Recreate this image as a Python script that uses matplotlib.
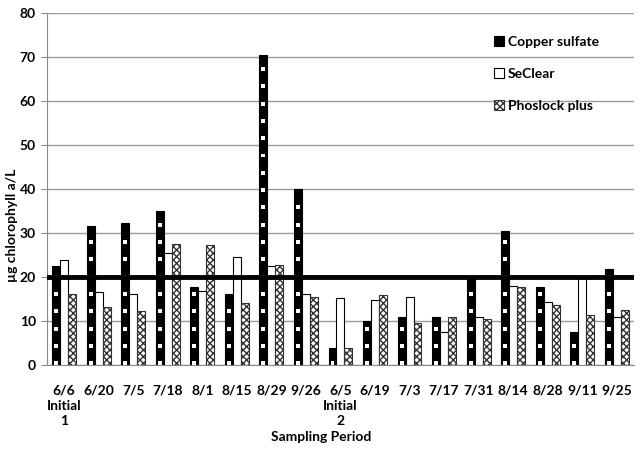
import matplotlib
matplotlib.use("Agg")
import matplotlib.pyplot as plt
import numpy as np

plt.rcParams['font.family'] = ['Lato', 'DejaVu Sans']
plt.rcParams['hatch.linewidth'] = 1.0

# data
dates = ["6/6\nInitial\n1", "6/20", "7/5", "7/18", "8/1", "8/15", "8/29", "9/26",
         "6/5\nInitial\n2", "6/19", "7/3", "7/17", "7/31", "8/14", "8/28", "9/11", "9/25"]
copper = [22.5, 31.5, 32.3, 35.0, 17.7, 16.2, 70.3, 40.0,
          3.8, 9.9, 11.0, 11.0, 19.8, 30.5, 17.8, 7.4, 21.8]
seclear = [23.9, 16.6, 16.2, 25.5, 16.8, 24.6, 22.5, 16.0,
           15.3, 14.8, 15.4, 7.5, 11.0, 18.0, 14.2, 20.0, 11.0]
phoslock = [16.2, 13.2, 12.3, 27.5, 27.3, 14.0, 22.8, 15.4,
            3.8, 15.9, 9.5, 11.0, 10.5, 17.8, 13.5, 11.3, 12.4]
threshold = 20

fig = plt.figure(figsize=(6.43, 4.5), dpi=100)
ax = fig.add_axes([0.073, 0.189, 0.913, 0.783])

x = np.arange(len(dates))
w = 0.23

# copper sulfate: black with a column of white squares
ax.bar(x - w, copper, w, color='black', edgecolor='black', lw=0.8, zorder=3,
       label='Copper sulfate')
for xi, v in zip(x, copper):
    ys = np.arange(0.4, v - 1.0, 3.93)
    ax.scatter(np.full(len(ys), xi - w), ys, marker='s', s=8, c='white',
               edgecolors='none', zorder=4)
# seclear: white
ax.bar(x, seclear, w, color='white', edgecolor='black', lw=0.8, zorder=3, label='SeClear')
# phoslock plus: checkered
ax.bar(x + w, phoslock, w, color='white', edgecolor='#333333', hatch='xxxxx', lw=0.8,
       zorder=3, label='Phoslock plus')

ax.axhline(threshold, color='black', lw=3.5, zorder=5)

ax.set_xlim(-0.5, len(dates) - 0.5)
ax.set_ylim(0, 80)
ax.set_yticks(range(0, 81, 10))
ax.yaxis.grid(True, color='#999999', lw=1.0)
ax.set_axisbelow(True)
for s in ['top', 'right']:
    ax.spines[s].set_visible(False)
ax.spines['left'].set_color('#888888')
ax.spines['bottom'].set_color('#888888')
ax.tick_params(axis='y', length=4, color='#888888', labelsize=10, pad=4)
ax.tick_params(axis='x', length=0, labelsize=10, pad=14)
ax.set_xticks(x)
ax.set_xticklabels(dates, fontweight='bold', linespacing=1.35)
for t in ax.get_yticklabels():
    t.set_fontweight('bold')

fig.text(0.5, 1 - 437 / 450, 'Sampling Period', ha='center', va='center',
         fontweight='bold', fontsize=10)
fig.text(12 / 643, 0.5, 'µg chlorophyll a/L', ha='center', va='center', rotation=90,
         fontweight='bold', fontsize=10)

leg = ax.legend(loc='upper left', bbox_to_anchor=(0.74, 0.97), frameon=False,
                prop={'weight': 'bold', 'size': 10}, handlelength=0.7, handleheight=0.7,
                handletextpad=0.3, labelspacing=1.45)

fig.savefig('out.png', dpi=100)
